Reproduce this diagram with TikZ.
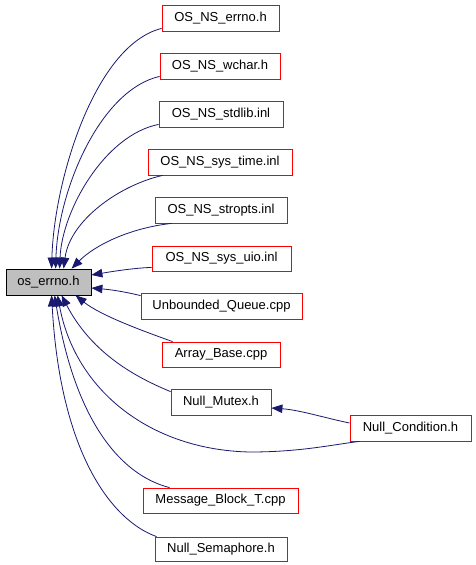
\documentclass[tikz,border=0pt]{standalone}
\usepackage{fontspec}
\setmainfont{Liberation Sans}
\usetikzlibrary{arrows.meta,calc}
\definecolor{navyb}{HTML}{191970}
\definecolor{boxgray}{HTML}{BFBFBF}
\begin{document}
\begin{tikzpicture}[x=1pt,y=-1pt,
  box/.style={draw=red, line width=0.8pt, minimum height=26pt, inner sep=0pt, font=\fontsize{13}{15}\selectfont},
  rootbox/.style={box, draw=black, fill=boxgray},
  dep/.style={draw=navyb, line width=0.8pt, {Triangle[length=11pt,width=8.5pt]}-}]
\useasboundingbox[fill=white] (0,0) rectangle (475,565);
\node[rootbox, minimum width=85pt] (os) at (48.5,282) {os\_errno.h};
\node[box, minimum width=117pt] (errno) at (220.5,18) {OS\_NS\_errno.h};
\node[box, minimum width=120pt] (wchar) at (220,66) {OS\_NS\_wchar.h};
\node[box, minimum width=124pt] (stdlib) at (221,114) {OS\_NS\_stdlib.inl};
\node[box, minimum width=144pt] (systime) at (220,162) {OS\_NS\_sys\_time.inl};
\node[box, minimum width=132pt] (stropts) at (221,210) {OS\_NS\_stropts.inl};
\node[box, minimum width=139pt, minimum height=25pt] (sysuio) at (221.5,258.5) {OS\_NS\_sys\_uio.inl};
\node[box, minimum width=161pt] (unbounded) at (221.5,306) {Unbounded\_Queue.cpp};
\node[box, minimum width=118pt, minimum height=25pt] (arraybase) at (221,354.5) {Array\_Base.cpp};
\node[box, minimum width=100pt] (nullmutex) at (221,402) {Null\_Mutex.h};
\node[box, minimum width=121pt] (nullcond) at (410.5,428) {Null\_Condition.h};
\node[box, minimum width=155pt, minimum height=25pt] (msgblock) at (220.5,500.5) {Message\_Block\_T.cpp};
\node[box, minimum width=132pt, minimum height=24pt] (nullsem) at (221,549) {Null\_Semaphore.h};
% edges into the top of os_errno.h
\draw[dep] ($(os.north west)+(46,0)$) .. controls (54,180) and (95,45) .. ($(errno.south west)+(0,-3)$);
\draw[dep] ($(os.north west)+(50,0)$) .. controls (58,190) and (100,90) .. ($(wchar.south west)+(0,-3)$);
\draw[dep] ($(os.north west)+(54,0)$) .. controls (62,210) and (105,135) .. ($(stdlib.south west)+(0,-3)$);
\draw[dep] ($(os.north west)+(58,0)$) .. controls (70,220) and (120,185) .. ($(systime.south west)+(15,0)$);
\draw[dep] ($(os.north west)+(66,0)$) .. controls (95,245) and (130,228) .. ($(stropts.south west)+(17,0)$);
% edges into the right side
\draw[dep] ($(os.east)+(0,-7)$) .. controls (115,271) and (135,268) .. ($(sysuio.south west)+(0,-4)$);
\draw[dep] ($(os.east)+(0,6)$) .. controls (115,290) and (130,293) .. ($(unbounded.north west)+(0,3)$);
% edges into the bottom
\draw[dep] ($(os.south west)+(70,0)$) .. controls (100,315) and (140,330) .. ($(arraybase.north west)+(11,0)$);
\draw[dep] ($(os.south west)+(56,0)$) .. controls (90,350) and (130,375) .. ($(nullmutex.north west)+(0,3)$);
\draw[dep] ($(os.south west)+(52,0)$) .. controls (75,390) and (150,450) .. (250,452) .. controls (300,452) and (330,445) .. ($(nullcond.south west)+(10,0)$);
\draw[dep] ($(os.south west)+(49,0)$) .. controls (75,420) and (120,475) .. ($(msgblock.north west)+(27,0)$);
\draw[dep] ($(os.south west)+(46,0)$) .. controls (60,450) and (110,520) .. ($(nullsem.north west)+(2,0)$);
% Null_Condition -> Null_Mutex
\draw[dep] ($(nullmutex.east)+(0,6)$) .. controls (300,410) and (325,418) .. ($(nullcond.west)+(0,-5)$);
\end{tikzpicture}
\end{document}
